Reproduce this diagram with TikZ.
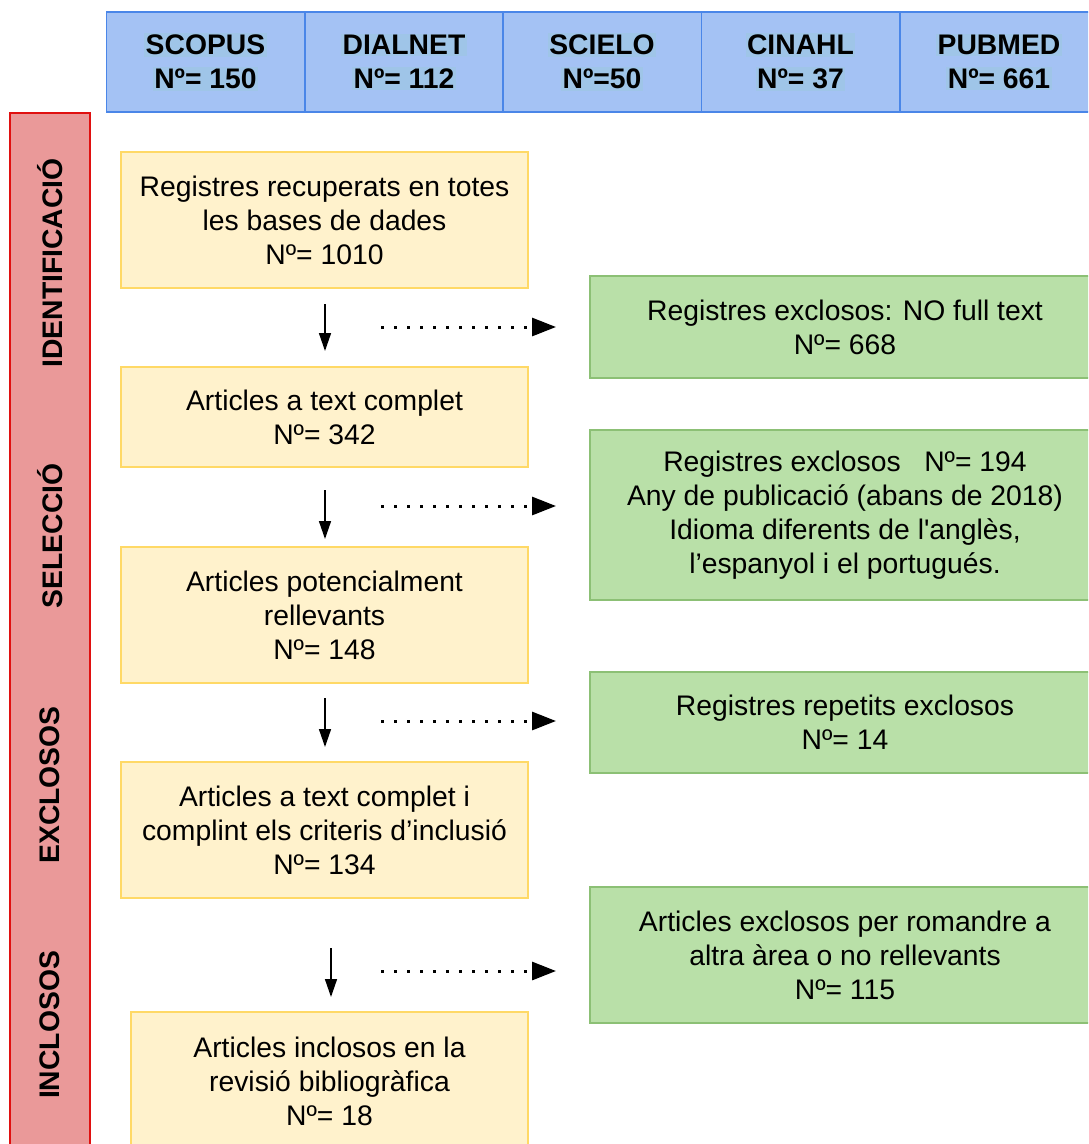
\documentclass[tikz,border=0pt]{standalone}
\usepackage{fontspec}
\setmainfont{Liberation Sans}[Ligatures=TeXOff]
\usetikzlibrary{arrows.meta}
\definecolor{hdrfill}{HTML}{A4C2F4}
\definecolor{hdrdraw}{HTML}{4A86E8}
\definecolor{hltext}{HTML}{9FC5E8}
\definecolor{redfill}{HTML}{EA9999}
\definecolor{reddraw}{HTML}{E01010}
\definecolor{yelfill}{HTML}{FFF2CC}
\definecolor{yeldraw}{HTML}{FFD966}
\definecolor{grnfill}{HTML}{B9E0A8}
\definecolor{grndraw}{HTML}{8CC075}
\newcommand\hlt[1]{{\setlength\fboxsep{1.5pt}\colorbox{hltext}{#1}}}
\tikzset{
  basefont/.style={font=\fontsize{28.3}{34}\selectfont},
  hdrcell/.style={basefont, draw=hdrdraw, fill=hdrfill, line width=1.5pt, minimum width=198.5pt, minimum height=100pt, inner sep=0pt, align=center},
  yelbox/.style={basefont, draw=yeldraw, fill=yelfill, line width=1.5pt, minimum width=407pt, inner sep=0pt, align=center},
  grnbox/.style={basefont, draw=grndraw, fill=grnfill, line width=1.5pt, minimum width=510pt, inner sep=0pt, align=center},
  redbar/.style={draw=reddraw, fill=redfill, line width=1.5pt, minimum width=80pt, inner sep=0pt},
  phase/.style={font=\fontsize{28.3}{34}\selectfont\bfseries, rotate=90, inner sep=0pt},
  downarr/.style={line width=1.5pt, -{Triangle[length=18pt,width=12pt]}},
  dotarr/.style={line width=3pt, dash pattern=on 3pt off 10pt, -{Triangle[length=24pt,width=18pt]}},
}
\begin{document}
\begin{tikzpicture}[x=1pt,y=-1pt]
\useasboundingbox (0,0) rectangle (1088,1144);
\clip (0,0) rectangle (1088,1144);

% header
\node[hdrcell] (h1) at (205.5,62) {\bfseries\hlt{SCOPUS}\\\bfseries\hlt{Nº= 150}};
\node[hdrcell] (h2) at (404,62) {\bfseries\hlt{DIALNET}\\\bfseries\hlt{Nº= 112}};
\node[hdrcell] (h3) at (602,62) {\bfseries\hlt{SCIELO}\\\bfseries\hlt{Nº=50}};
\node[hdrcell] (h4) at (800.5,62) {\bfseries\hlt{CINAHL}\\\bfseries\hlt{Nº= 37}};
\node[hdrcell] (h5) at (999,62) {\bfseries\hlt{PUBMED}\\\bfseries\hlt{Nº= 661}};

% red bar
\node[redbar, minimum height=1040pt] (bar) at (50,633) {};
\node[phase] (p1) at (50,263) {IDENTIFICACIÓ};
\node[phase] (p2) at (50,536) {SELECCIÓ};
\node[phase] (p3) at (50,785) {EXCLOSOS};
\node[phase] (p4) at (50,1025) {INCLOSOS};

% yellow boxes
\node[yelbox, minimum height=136pt] (y1) at (324.5,220) {Registres recuperats en totes\\les bases de dades\\Nº= 1010};
\node[yelbox, minimum height=100pt] (y2) at (324.5,417) {Articles a text complet\\Nº= 342};
\node[yelbox, minimum height=136pt] (y3) at (324.5,615) {Articles potencialment\\rellevants\\Nº= 148};
\node[yelbox, minimum height=136pt] (y4) at (324.5,830) {Articles a text complet i\\complint els criteris d’inclusió\\Nº= 134};
\node[yelbox, minimum width=397pt, minimum height=138pt] (y5) at (329.5,1081) {Articles inclosos en la\\revisió bibliogràfica\\Nº= 18};

% green boxes
\node[grnbox, minimum height=102pt] (g1) at (845,327) {Registres exclosos: NO full text\\Nº= 668};
\node[grnbox, minimum height=170pt] (g2) at (845,515) {Registres exclosos\ \ \ Nº= 194\\Any de publicació (abans de 2018)\\Idioma diferents de l'anglès,\\l’espanyol i el portugués.};
\node[grnbox, minimum height=101pt] (g3) at (845,722.5) {Registres repetits exclosos\\Nº= 14};
\node[grnbox, minimum height=136pt] (g4) at (845,955) {Articles exclosos per romandre a\\altra àrea o no rellevants\\Nº= 115};

% down arrows
\coordinate (a1s) at (325,304); \coordinate (a1e) at (325,351);
\coordinate (a2s) at (325,490); \coordinate (a2e) at (325,539);
\coordinate (a3s) at (325,698); \coordinate (a3e) at (325,747);
\coordinate (a4s) at (331,948); \coordinate (a4e) at (331,997);
\draw[downarr] (a1s) -- (a1e);
\draw[downarr] (a2s) -- (a2e);
\draw[downarr] (a3s) -- (a3e);
\draw[downarr] (a4s) -- (a4e);

% dotted arrows
\coordinate (b1s) at (381,327); \coordinate (b1e) at (556,327);
\coordinate (b2s) at (381,506); \coordinate (b2e) at (556,506);
\coordinate (b3s) at (381,721); \coordinate (b3e) at (556,721);
\coordinate (b4s) at (381,971); \coordinate (b4e) at (556,971);
\draw[dotarr] (b1s) -- (b1e);
\draw[dotarr] (b2s) -- (b2e);
\draw[dotarr] (b3s) -- (b3e);
\draw[dotarr] (b4s) -- (b4e);
\end{tikzpicture}
\end{document}
